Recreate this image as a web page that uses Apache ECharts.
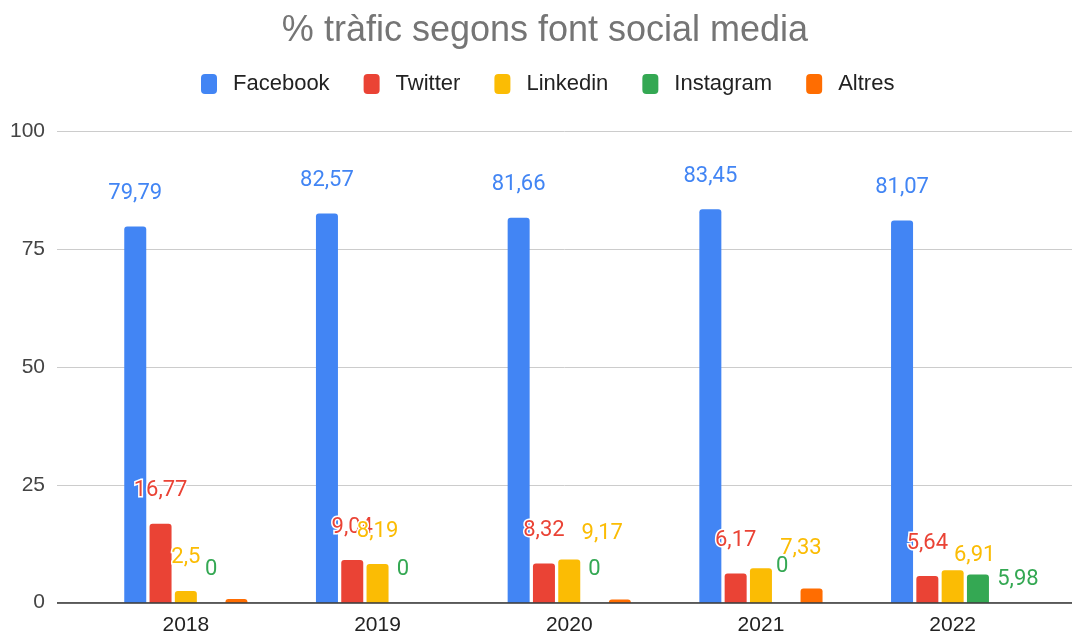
<!DOCTYPE html>
<html>
<head>
<meta charset="utf-8">
<script src="https://cdn.jsdelivr.net/npm/echarts@6/dist/echarts.min.js"></script>
<style>html,body{margin:0;padding:0;background:#fff}#c{width:1073px;height:637px}</style>
</head>
<body>
<div id="c"></div>
<script>
const categories = ['2018', '2019', '2020', '2021', '2022'];
const facebook = [79.79, 82.57, 81.66, 83.45, 81.07];
const twitter = [16.77, 9.04, 8.32, 6.17, 5.64];
const linkedin = [2.5, 8.19, 9.17, 7.33, 6.91];
const instagram = [0, 0, 0, 0, 5.98];
const altres = [0.8, null, 0.7, 3.0, null];
const yTicks = [0, 25, 50, 75, 100];

const names = ['Facebook', 'Twitter', 'Linkedin', 'Instagram', 'Altres'];
const colors = ['#4285f4', '#ea4335', '#fbbc04', '#34a853', '#ff6d01'];
const seriesData = [facebook, twitter, linkedin, instagram, altres];
const showLabels = [true, true, true, true, false];
// label nudges (style only) to mimic the reference's collision placement
const labelNudge = {
  '2,2': [33, 7], '2,3': [40, 13], '3,3': [-4, -3], '2,4': [22, 18], '3,4': [40, 38]
};

const chart = echarts.init(document.getElementById('c'));
const fmt = v => (v === null || v === undefined) ? '' : String(v).replace('.', ',');

const series = names.map((n, si) => ({
  name: n,
  type: 'bar',
  xAxisIndex: 1,
  yAxisIndex: 1,
  barWidth: 22,
  barGap: '15%',
  itemStyle: { color: colors[si], borderRadius: [3, 3, 0, 0] },
  data: seriesData[si].map((v, ci) => {
    const nud = labelNudge[si + ',' + ci];
    const o = { value: v };
    if (nud) o.label = { offset: nud };
    return o;
  }),
  label: {
    show: showLabels[si],
    position: 'top',
    distance: 22,
    color: colors[si],
    fontFamily: 'Roboto',
    fontSize: 22,
    textBorderColor: '#fff',
    textBorderWidth: 3,
    formatter: p => fmt(p.value)
  }
}));

chart.setOption({
  animation: false,
  backgroundColor: '#fff',
  title: {
    text: '% tràfic segons font social media',
    left: 540, top: 8, textAlign: 'center',
    textStyle: { color: '#757575', fontFamily: 'Liberation Sans', fontSize: 36, fontWeight: 'normal' }
  },
  legend: {
    data: names,
    left: 196, top: 68,
    itemWidth: 16, itemHeight: 20, itemGap: 34,
    icon: 'roundRect',
    textStyle: { color: '#222', fontFamily: 'Liberation Sans', fontSize: 22, padding: [0, 0, 0, 11] }
  },
  grid: [
    { left: 57, right: 1, top: 131.3, bottom: 34.3 },
    { left: 90, right: 24.5, top: 131.3, bottom: 34.3 }
  ],
  xAxis: [
    { type: 'category', gridIndex: 0, data: categories, show: false },
    {
      type: 'category', gridIndex: 1, data: categories,
      axisLine: { show: false }, axisTick: { show: false },
      axisLabel: { color: '#222', fontFamily: 'Liberation Sans', fontSize: 21, margin: 12 }
    }
  ],
  yAxis: [
    {
      type: 'value', gridIndex: 0, min: 0, max: 100, interval: 25,
      axisLabel: { color: '#444', fontFamily: 'Liberation Sans', fontSize: 21, margin: 12,
        formatter: v => yTicks.includes(v) ? String(v) : '' },
      splitLine: { lineStyle: { color: '#cccccc', width: 1 } },
      axisLine: { show: false }, axisTick: { show: false }
    },
    { type: 'value', gridIndex: 1, min: 0, max: 100, interval: 25, show: false, splitLine: { show: false } }
  ],
  series: series.concat([{
    type: 'line', xAxisIndex: 0, yAxisIndex: 0, data: [],
    markLine: { silent: true, symbol: 'none', label: { show: false },
      lineStyle: { color: '#333', width: 1.5, type: 'solid' }, data: [{ yAxis: 0 }] }
  }])
});
</script>
</body>
</html>
